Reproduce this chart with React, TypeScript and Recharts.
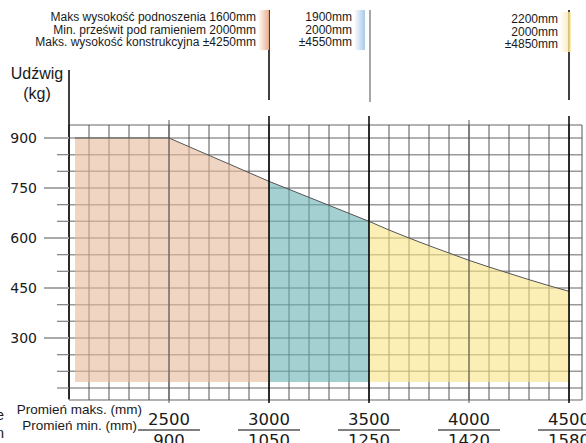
import { ComposedChart, Area, XAxis, YAxis, CartesianGrid, ReferenceLine } from 'recharts'

// horizontal position in grid steps (one step = one vertical grid line)
const stepPos = [0.3, 5, 10, 15, 16, 17, 18, 19, 20, 21, 22, 23, 24, 25]
const capacity = [900, 900, 770, 650, 624, 600, 577, 555, 533, 513, 494, 475, 457, 440]

const gridSteps = Array.from({ length: 26 }, (_, i) => i)
const loadTicks = [150, 200, 250, 300, 350, 400, 450, 500, 550, 600, 650, 700, 750, 800, 850, 900]

const labelSteps = [5, 10, 15, 20, 25]
const radiusMax = ['2500', '3000', '3500', '4000', '4500']
const radiusMin = ['900', '1050', '1250', '1420', '1580']

const zoneEnd = [10, 15, 25]

const header1 = ['Maks wysokość podnoszenia 1600mm', 'Min. prześwit pod ramieniem 2000mm', 'Maks. wysokość konstrukcyjna ±4250mm']
const header2 = ['1900mm', '2000mm', '±4550mm']
const header3 = ['2200mm', '2000mm', '±4850mm']

const data = stepPos.map((x, i) => ({
  x,
  orange: x <= zoneEnd[0] ? capacity[i] : null,
  blue: x >= zoneEnd[0] && x <= zoneEnd[1] ? capacity[i] : null,
  yellow: x >= zoneEnd[1] ? capacity[i] : null,
}))

const sans = '"Liberation Sans", Arial, sans-serif'
const num = '"DejaVu Sans", sans-serif'

const XTick = ({ x, y, payload }: any) => {
  const i = labelSteps.indexOf(payload.value)
  if (i < 0) return <g />
  return (
    <g>
      <text x={x} y={y + 25} textAnchor="middle" fontSize={16.5} fontFamily={num} fill="#1a1a1a">{radiusMax[i]}</text>
      <line x1={x - 31} x2={x + 31} y1={y + 30} y2={y + 30} stroke="#555" strokeWidth={1.5} />
      <text x={x} y={y + 46} textAnchor="middle" fontSize={16.5} fontFamily={num} fill="#1a1a1a">{radiusMin[i]}</text>
    </g>
  )
}

const YTick = ({ x, y, payload }: any) => {
  const v = payload.value
  const major = v % 150 === 0 && v !== 150
  return (
    <g>
      <line x1={x - (major ? 25 : 12)} x2={x} y1={y} y2={y} stroke={major ? '#aaa' : '#888'} strokeWidth={major ? 2 : 1.3} />
      {major && (
        <text x={x - 32} y={y} dy="0.35em" textAnchor="end" fontSize={14} fontFamily={num} fill="#1a1a1a">{v}</text>
      )}
    </g>
  )
}

const Header = ({ lines, right, top, color }: { lines: string[]; right: number; top: number; color: string }) => (
  <>
    <div style={{ position: 'absolute', right: 586 - right, top, textAlign: 'right', fontFamily: sans, fontSize: 12, lineHeight: '12.7px', color: '#1a1a1a', whiteSpace: 'nowrap' }}>
      {lines.map((l) => <div key={l}>{l}</div>)}
    </div>
    <div style={{ position: 'absolute', left: right + 2, top: top - 1, width: 11, height: 40, background: `linear-gradient(to right, rgba(255,255,255,0), ${color})` }} />
  </>
)

export default function App() {
  return (
    <div style={{ position: 'absolute', left: 0, top: 0, width: 586, height: 443, background: '#fff', overflow: 'hidden' }}>
      <ComposedChart width={586} height={443} data={data} margin={{ top: 125, right: 4, bottom: 0, left: 0 }}>
        <CartesianGrid vertical={false} stroke="#999" strokeWidth={1.5} />
        <CartesianGrid horizontal={false} stroke="#555" strokeWidth={1} />
        <XAxis
          dataKey="x"
          type="number"
          domain={[0, 25.65]}
          ticks={gridSteps}
          interval={0}
          height={43}
          axisLine={false}
          tickLine={false}
          tickSize={0}
          tickMargin={0}
          tick={<XTick />}
        />
        <YAxis
          type="number"
          domain={[114, 939]}
          ticks={loadTicks}
          interval={0}
          width={69}
          axisLine={false}
          tickLine={false}
          tickSize={0}
          tickMargin={0}
          tick={<YTick />}
        />
        <Area type="linear" dataKey="orange" baseValue={168} stroke="#555" strokeWidth={1} fill="#e6bb99" fillOpacity={0.6} isAnimationActive={false} />
        <Area type="linear" dataKey="blue" baseValue={168} stroke="#555" strokeWidth={1} fill="#69b1b4" fillOpacity={0.6} isAnimationActive={false} />
        <Area type="linear" dataKey="yellow" baseValue={168} stroke="#555" strokeWidth={1} fill="#fae484" fillOpacity={0.6} isAnimationActive={false} />

        {/* load axis, running up to the label */}
        <ReferenceLine segment={[{ x: 0, y: 117 }, { x: 0, y: 1104 }]} stroke="#000" strokeWidth={1.5} ifOverflow="visible" />
        {/* longer lines at every fifth step */}
        <ReferenceLine segment={[{ x: 5, y: 105 }, { x: 5, y: 954 }]} stroke="#555" strokeWidth={1} ifOverflow="visible" />
        <ReferenceLine segment={[{ x: 20, y: 105 }, { x: 20, y: 954 }]} stroke="#555" strokeWidth={1} ifOverflow="visible" />
        {zoneEnd.map((s) => (
          <ReferenceLine key={s} segment={[{ x: s, y: 105 }, { x: s, y: 966 }]} stroke="#000" strokeWidth={1.5} ifOverflow="visible" />
        ))}
        {/* header separators */}
        <ReferenceLine segment={[{ x: 10, y: 1014 }, { x: 10, y: 1284 }]} stroke="#000" strokeWidth={1.5} ifOverflow="visible" />
        <ReferenceLine segment={[{ x: 15.05, y: 1008 }, { x: 15.05, y: 1284 }]} stroke="#888" strokeWidth={1.5} ifOverflow="visible" />
        <ReferenceLine segment={[{ x: 25, y: 1014 }, { x: 25, y: 1284 }]} stroke="#000" strokeWidth={1.5} ifOverflow="visible" />
      </ComposedChart>

      <Header lines={header1} right={256} top={11} color="#e9b08e" />
      <Header lines={header2} right={352} top={11} color="#a9c9ea" />
      <Header lines={header3} right={558} top={13} color="#fbe7a2" />

      <div style={{ position: 'absolute', left: 0, top: 64, width: 74, textAlign: 'center', fontFamily: sans, fontSize: 16, lineHeight: '20px', color: '#1a1a1a' }}>
        <div style={{ marginLeft: -2, width: 78 }}>Udźwig</div>
        <div>(kg)</div>
      </div>

      <div style={{ position: 'absolute', right: 586 - 142, top: 402, textAlign: 'right', fontFamily: sans, fontSize: 13.5, lineHeight: '16px', color: '#1a1a1a', whiteSpace: 'nowrap' }}>
        Promień maks. (mm)
      </div>
      <div style={{ position: 'absolute', right: 586 - 137, top: 418, textAlign: 'right', fontFamily: sans, fontSize: 13.5, lineHeight: '16px', color: '#1a1a1a', whiteSpace: 'nowrap' }}>
        Promień min. (mm)
      </div>
      <div style={{ position: 'absolute', left: -4, top: 406, fontFamily: sans, fontSize: 14.5, lineHeight: '18px', color: '#1a1a1a' }}>
        <div>e</div>
        <div>n</div>
      </div>
    </div>
  )
}
